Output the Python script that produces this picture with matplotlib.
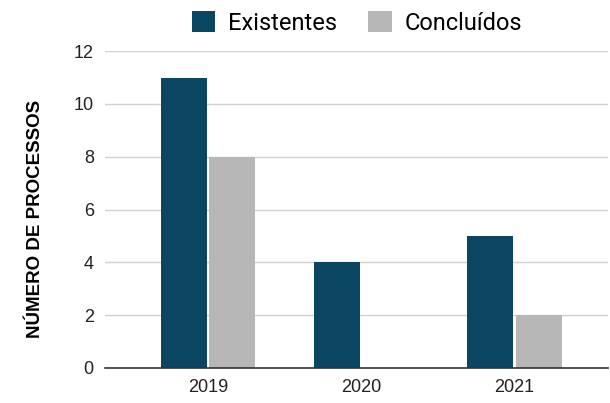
import numpy as np
import matplotlib
matplotlib.use("Agg")
import matplotlib.pyplot as plt

anos = ["2019", "2020", "2021"]
existentes = [11, 4, 5]
concluidos = [8, 0, 2]
yticks = [0, 2, 4, 6, 8, 10, 12]

cor_exist = "#0a4562"
cor_concl = "#b7b7b7"

fig = plt.figure(figsize=(6.1, 4.03), dpi=100)
ax = fig.add_axes([0.172, 0.087, 0.825, 0.786])

x = np.arange(len(anos))
w = 0.30
ax.bar(x - 0.155, existentes, w, color=cor_exist, label="Existentes", zorder=3)
ax.bar(x + 0.16, concluidos, w, color=cor_concl, label="Concluídos", zorder=3)

ax.set_xlim(-0.673, 2.614)
ax.set_ylim(0, 12)
ax.set_yticks(yticks)
ax.set_xticks(x)
ax.set_xticklabels(anos, fontfamily="Liberation Sans", fontsize=13)
for lbl in ax.get_yticklabels():
    lbl.set_fontfamily("Liberation Sans")
    lbl.set_fontsize(13)

ax.grid(axis="y", color="#d0d0d0", linewidth=1, zorder=0)
for s in ["top", "right", "left"]:
    ax.spines[s].set_visible(False)
ax.spines["bottom"].set_color("#333333")
ax.spines["bottom"].set_linewidth(1.2)
ax.spines["bottom"].set_zorder(4)
ax.tick_params(axis="both", length=0, pad=8, colors="#222222")

ax.set_ylabel("NÚMERO DE PROCESSOS", fontfamily="Liberation Sans",
              fontweight="bold", fontsize=13.5)
ax.yaxis.set_label_coords(-0.122, 0.47)

fig.legend(loc="upper center", bbox_to_anchor=(0.585, 1.025), ncol=2,
           frameon=False, prop={"family": "Roboto", "size": 17},
           handlelength=1.0, handleheight=1.0, columnspacing=1.3, handletextpad=0.55)

fig.savefig("out.png", dpi=100)
